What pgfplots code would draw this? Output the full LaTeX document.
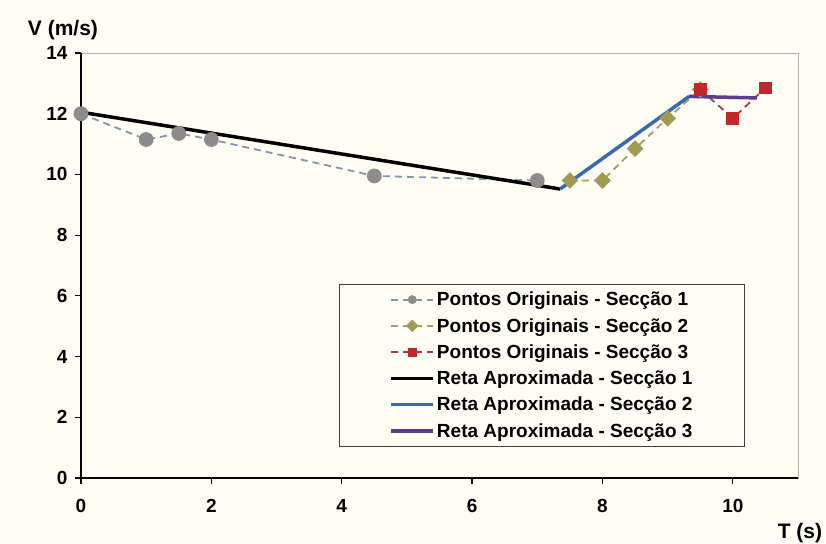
\documentclass[border=0pt]{standalone}
\usepackage{pgfplots}
\pgfplotsset{compat=1.18}
\usepackage{fontspec}
\setmainfont{Liberation Sans}
\definecolor{bg}{HTML}{FFFDF4}
\definecolor{sonemark}{HTML}{8C8C8C}
\definecolor{soneline}{HTML}{8398A6}
\definecolor{stwomark}{HTML}{A09A52}
\definecolor{stwoline}{HTML}{98A46A}
\definecolor{sthreemark}{HTML}{C0282C}
\definecolor{sthreeline}{HTML}{A0404C}
\definecolor{ltwo}{HTML}{3C68B0}
\definecolor{lthree}{HTML}{5C3C8C}
\begin{document}
\begin{tikzpicture}[x=1pt,y=1pt]
\fill[bg] (0,0) rectangle (826,543);
\useasboundingbox (0,0) rectangle (826,543);
\begin{axis}[
  at={(81pt,65pt)}, anchor=origin,
  scale only axis, width=717pt, height=425pt,
  xmin=0, xmax=11, ymin=0, ymax=14,
  clip=false,
  axis line style={gray!60, line width=0.8pt},
  xtick={0,2,...,10}, ytick={0,2,...,14},
  tick pos=left, tick align=outside,
  major tick length=6pt,
  tick style={black, line width=1.2pt},
  ticklabel style={font=\fontsize{19}{22}\selectfont\bfseries},
  xticklabel style={yshift=-12pt},
  yticklabel style={xshift=-4pt},
  /pgf/number format/assume math mode=true,
  legend cell align=left,
  legend style={at={(rel axis cs:0.926,0.073)}, anchor=south east,
    draw=gray!50!black, fill=bg, line width=0.8pt,
    font=\fontsize{19}{22}\selectfont\bfseries,
    inner xsep=50pt, inner ysep=6pt, row sep=7pt},
  legend image post style={mark size=3.5pt},
  legend image code/.code={\draw[mark repeat=2,mark phase=2,#1] plot coordinates {(0pt,0pt) (21pt,0pt) (42pt,0pt)};},
]
\addplot[dashed, dash pattern=on 7pt off 5pt, color=soneline, line width=1.8pt,
  mark=*, mark size=6.5pt, mark options={solid, fill=sonemark, draw=sonemark}]
  coordinates {(0,12) (1,11.15) (1.5,11.35) (2,11.15) (4.5,9.95) (7,9.8)};
\addlegendentry{Pontos Originais - Secção 1}
\addplot[dashed, dash pattern=on 7pt off 5pt, color=stwoline, line width=1.8pt,
  mark=square*, mark size=5pt, mark options={solid, rotate=45, fill=stwomark, draw=stwomark}]
  coordinates {(7.5,9.8) (8,9.8) (8.5,10.85) (9,11.85) (9.5,12.8)};
\addlegendentry{Pontos Originais - Secção 2}
\addplot[dashed, dash pattern=on 7pt off 5pt, color=sthreeline, line width=1.8pt,
  mark=square*, mark size=5.5pt, mark options={solid, fill=sthreemark, draw=sthreemark}]
  coordinates {(9.5,12.8) (10,11.85) (10.5,12.85)};
\addlegendentry{Pontos Originais - Secção 3}
\addplot[black, line width=3.5pt] coordinates {(0,12.05) (7.35,9.52)};
\addlegendentry{Reta Aproximada - Secção 1}
\addplot[ltwo, line width=3.5pt] coordinates {(7.35,9.52) (9.33,12.57)};
\addlegendentry{Reta Aproximada - Secção 2}
\addplot[lthree, line width=3.5pt] coordinates {(9.33,12.57) (10.37,12.52)};
\addlegendentry{Reta Aproximada - Secção 3}
\draw[black, line width=2pt] (rel axis cs:0,1) -- (rel axis cs:0,0) -- (rel axis cs:1,0);
\end{axis}
\node[font=\fontsize{21}{24}\selectfont\bfseries, anchor=base] at (63,507) {V (m/s)};
\node[font=\fontsize{21}{24}\selectfont\bfseries, anchor=base] at (800,5) {T (s)};
\end{tikzpicture}
\end{document}
